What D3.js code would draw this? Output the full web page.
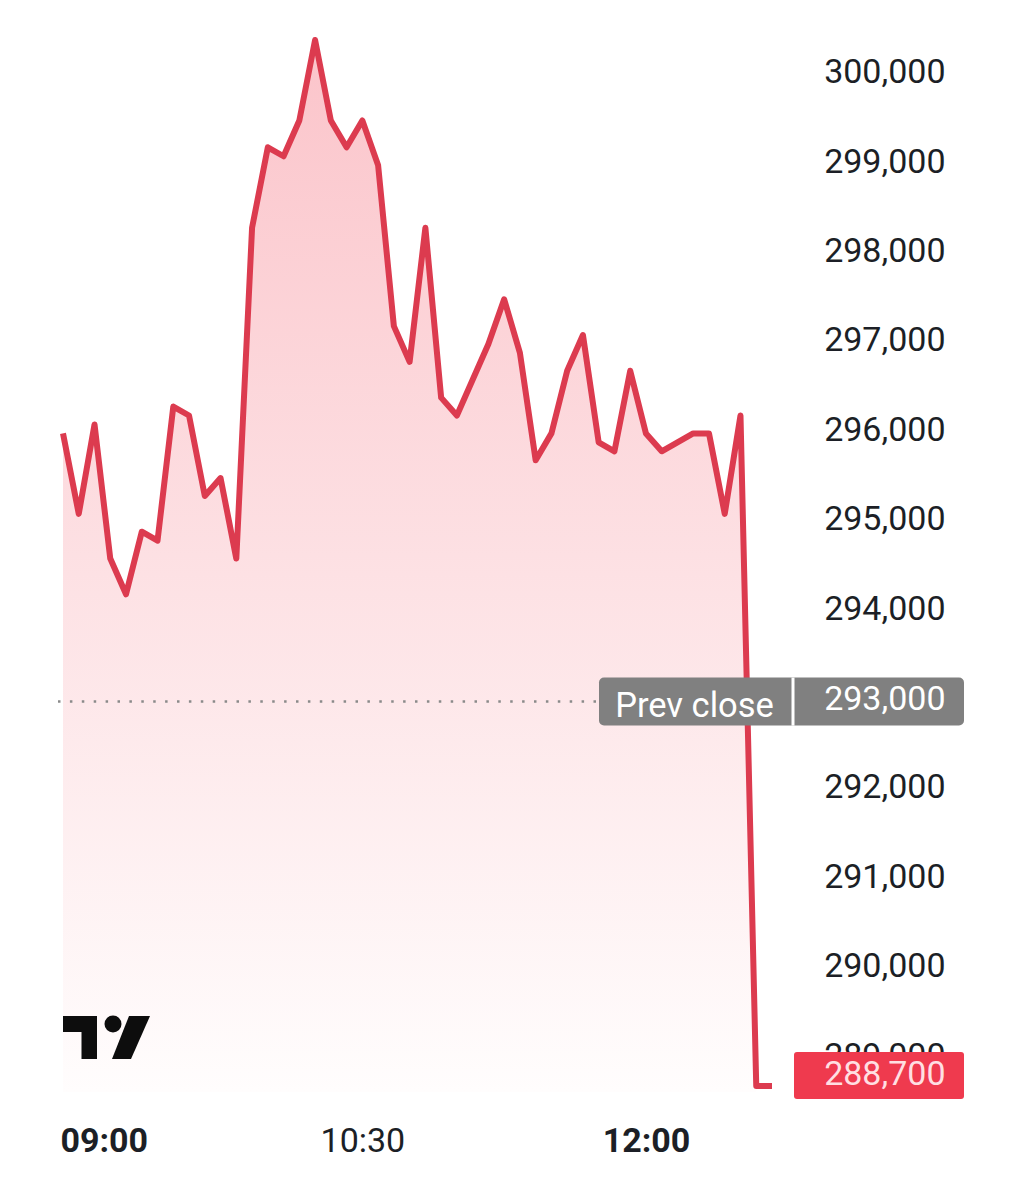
<!DOCTYPE html>
<html>
<head>
<meta charset="utf-8">
<style>
html, body { margin: 0; padding: 0; background: #fff; }
svg { display: block; }
text { font-family: Roboto, sans-serif; }
</style>
</head>
<body>
<div id="target"></div>
<script src="https://cdn.jsdelivr.net/npm/d3@7.8.3/dist/d3.min.js"></script>
<script>
// 5 minute bars, prices
const times = ["08:55","09:00","09:05","09:10","09:15","09:20","09:25","09:30","09:35","09:40",
    "09:45","09:50","09:55","10:00","10:05","10:10","10:15","10:20","10:25","10:30",
    "10:35","10:40","10:45","10:50","10:55","11:00","11:05","11:10","11:15","11:20",
    "11:25","11:30","11:35","11:40","11:45","11:50","11:55","12:00","12:05","12:10",
    "12:15","12:20","12:25","12:30","12:35","12:40"];
const prices = [296000,295100,296100,294600,294200,294900,294800,296300,296200,295300,
    295500,294600,298300,299200,299100,299500,300400,299500,299200,299500,
    299000,297200,296800,298300,296400,296200,296600,297000,297500,296900,
    295700,296000,296700,297100,295900,295800,296700,296000,295800,295900,
    296000,296000,295100,296200,288700,288700];
const priceTicks = [300000,299000,298000,297000,296000,295000,294000,292000,291000,290000,289000];
const timeTicks = ["09:00","10:30","12:00"];
const boldTimes = ["09:00","12:00"];
const prevClose = 293000;
const lastPrice = 288700;

const width = 1036;
const height = 1200;
const red = "#dc3b4f";

const x = d3.scalePoint().domain(times).range([63, 772]);
const y = d3.scaleLinear().domain([288700, 300000]).range([1086, 75.8]);
const fmt = d3.format(",");
const data = times.map((t, i) => ({ t: t, v: prices[i] }));

const svg = d3.select("#target").append("svg")
    .attr("width", width)
    .attr("height", height);

const grad = svg.append("defs").append("linearGradient")
    .attr("id", "fade")
    .attr("gradientUnits", "userSpaceOnUse")
    .attr("x1", 0).attr("x2", 0)
    .attr("y1", 38).attr("y2", 1092);
grad.append("stop").attr("offset", 0).attr("stop-color", "#fbc4ca");
grad.append("stop").attr("offset", 1).attr("stop-color", "#fffdfd");

// area stops at the last bar before the flat tail
const area = d3.area()
    .x(d => x(d.t))
    .y0(1092)
    .y1(d => y(d.v));
svg.append("path")
    .datum(data.slice(0, -1))
    .attr("fill", "url(#fade)")
    .attr("d", area);

svg.append("line")
    .attr("x1", 58).attr("x2", 598)
    .attr("y1", y(prevClose)).attr("y2", y(prevClose))
    .attr("stroke", "#8a8a8a")
    .attr("stroke-width", 2.5)
    .attr("stroke-dasharray", "2.5 9.4");

const line = d3.line()
    .x(d => x(d.t))
    .y(d => y(d.v));
svg.append("path")
    .datum(data)
    .attr("fill", "none")
    .attr("stroke", red)
    .attr("stroke-width", 6)
    .attr("stroke-linejoin", "round")
    .attr("d", line);

// price axis
const yAxis = d3.axisRight(y).tickValues(priceTicks).tickFormat(fmt).tickSize(0);
const yG = svg.append("g")
    .attr("transform", "translate(945.5,0)")
    .call(yAxis);
yG.select(".domain").remove();
yG.selectAll("text")
    .attr("x", 0)
    .attr("dy", "0.32em")
    .attr("y", -4)
    .attr("text-anchor", "end")
    .attr("fill", "#1c1f26")
    .attr("font-size", 34);

// time axis, first label is pushed in from the edge
const xAxis = d3.axisBottom(x).tickValues(timeTicks).tickSize(0);
const xG = svg.append("g")
    .attr("transform", "translate(0,1140)")
    .call(xAxis);
xG.select(".domain").remove();
xG.selectAll("text")
    .attr("y", 0)
    .attr("dy", "0.36em")
    .attr("x", d => d === "09:00" ? 25 : 0)
    .attr("fill", "#1c1f26")
    .attr("font-size", 34)
    .attr("font-weight", d => boldTimes.includes(d) ? 700 : 400);

// prev close tag
const tag = svg.append("g").attr("transform", `translate(0,${y(prevClose)})`);
tag.append("rect")
    .attr("x", 599).attr("y", -24)
    .attr("width", 365).attr("height", 48)
    .attr("rx", 5)
    .attr("fill", "#808080");
tag.append("rect")
    .attr("x", 791.5).attr("y", -24)
    .attr("width", 3).attr("height", 48)
    .attr("fill", "#fff");
tag.append("text")
    .attr("x", 694.5).attr("y", 3)
    .attr("dy", "0.35em")
    .attr("text-anchor", "middle")
    .attr("fill", "#fff")
    .attr("font-size", 34.5)
    .text("Prev close");
tag.append("text")
    .attr("x", 945.5).attr("y", -3)
    .attr("dy", "0.35em")
    .attr("text-anchor", "end")
    .attr("fill", "#fff")
    .attr("font-size", 34)
    .text(fmt(prevClose));

// last price tag sits over the 289,000 tick
const last = svg.append("g").attr("transform", `translate(0,${y(lastPrice)})`);
last.append("rect")
    .attr("x", 794).attr("y", -34)
    .attr("width", 170).attr("height", 47)
    .attr("rx", 3)
    .attr("fill", "#ef3a4e");
last.append("text")
    .attr("x", 945.5).attr("y", -13)
    .attr("dy", "0.35em")
    .attr("text-anchor", "end")
    .attr("fill", "#ffdfe2")
    .attr("font-size", 34)
    .text(fmt(lastPrice));

// TradingView mark
const logo = svg.append("g").attr("transform", "translate(63,1016)").attr("fill", "#0d0d0d");
logo.append("path").attr("d", "M0 0H34V43H18.5V16H0Z");
logo.append("circle").attr("cx", 50).attr("cy", 8).attr("r", 8.5);
logo.append("path").attr("d", "M66 0H87L68 43H49Z");
</script>
</body>
</html>
